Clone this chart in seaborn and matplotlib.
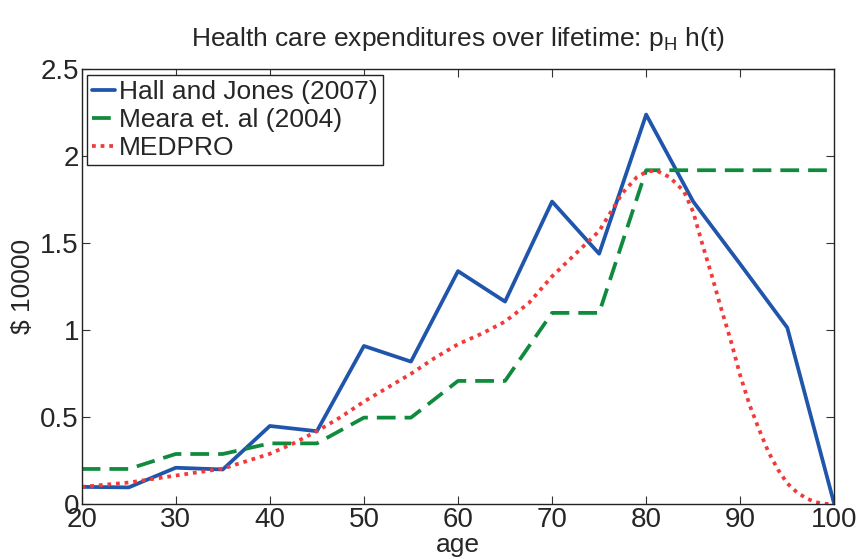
import numpy as np
import pandas as pd
from matplotlib import pyplot as plt
import seaborn as sns

# data
age = [20, 25, 30, 35, 40, 45, 50, 55, 60, 65, 70, 75, 80, 85, 90, 95, 100]
hall_jones = [0.10, 0.097, 0.21, 0.20, 0.45, 0.42, 0.91, 0.82, 1.34, 1.165,
              1.74, 1.44, 2.24, 1.74, 1.38, 1.015, 0.0]
meara = [0.203, 0.203, 0.289, 0.289, 0.35, 0.35, 0.498, 0.498, 0.709, 0.709,
         1.10, 1.10, 1.92, 1.92, 1.92, 1.92, 1.92]

medpro_age = [20, 25, 30, 35, 40, 42.5, 45, 47.5, 50, 52.5, 55, 57.5, 60, 62.5,
              65, 67.5, 70, 72.5, 75, 77.5, 79, 80, 81, 82.5, 84, 85, 86, 87,
              88, 89, 90, 91, 92, 93, 94, 95, 96, 97, 98, 99, 100]
medpro = [0.10, 0.125, 0.165, 0.205, 0.29, 0.35, 0.42, 0.50, 0.59, 0.67, 0.75,
          0.84, 0.92, 0.98, 1.05, 1.155, 1.31, 1.44, 1.57, 1.79, 1.88, 1.91,
          1.92, 1.88, 1.80, 1.68, 1.49, 1.31, 1.12, 0.94, 0.74, 0.57, 0.43,
          0.30, 0.20, 0.12, 0.07, 0.035, 0.012, 0.003, 0.0]

labels = ['Hall and Jones (2007)', 'Meara et. al (2004)', 'MEDPRO']

sns.set_style('ticks')
plt.rcParams['font.family'] = ['Liberation Sans', 'DejaVu Sans']
plt.rcParams['mathtext.fontset'] = 'custom'
plt.rcParams['mathtext.rm'] = 'Liberation Sans'
plt.rcParams['xtick.direction'] = 'in'
plt.rcParams['ytick.direction'] = 'in'

fig = plt.figure(figsize=(8.58, 5.59), dpi=100)
ax = fig.add_axes([0.0952, 0.0979, 0.8772, 0.7781])

hj = pd.DataFrame({'age': age, 'value': hall_jones})
me = pd.DataFrame({'age': age, 'value': meara})
md = pd.DataFrame({'age': medpro_age, 'value': medpro})

sns.lineplot(data=hj, x='age', y='value', ax=ax, color='#1f55aa', lw=2.7,
             label=labels[0], estimator=None)
sns.lineplot(data=me, x='age', y='value', ax=ax, color='#108a3c', lw=2.7,
             label=labels[1], estimator=None)
ax.lines[-1].set_dashes((5, 2.4))
sns.lineplot(data=md, x='age', y='value', ax=ax, color='#f23a3a', lw=2.7,
             label=labels[2], estimator=None)
ax.lines[-1].set_dashes((1, 1.3))
ax.lines[-1].set_dash_capstyle('butt')

ax.set_xlim(20, 100)
ax.set_ylim(0, 2.5)
ax.set_xticks(range(20, 101, 10))
ax.set_yticks([0, 0.5, 1, 1.5, 2, 2.5])
ax.set_yticklabels(['0', '0.5', '1', '1.5', '2', '2.5'])
ax.tick_params(axis='both', labelsize=20, length=6, width=0.8, color='#333333',
               top=True, right=True, pad=2)
for s in ax.spines.values():
    s.set_visible(True)
    s.set_linewidth(1.0)
    s.set_color('#222222')

ax.set_xlabel('age', fontsize=19, labelpad=0)
ax.set_ylabel('$ 10000', fontsize=19, labelpad=4)
ax.set_title(r'Health care expenditures over lifetime: p$_\mathrm{H}$ h(t)',
             fontsize=19, pad=17)

leg = ax.legend(loc='upper left', fontsize=19, handlelength=0.85,
                handletextpad=0.15, borderpad=0.2, labelspacing=0.15,
                borderaxespad=0.2, fancybox=False, framealpha=1)
leg.get_frame().set_edgecolor('#222222')
leg.get_frame().set_linewidth(1.0)

fig.savefig('out.png', dpi=100)
